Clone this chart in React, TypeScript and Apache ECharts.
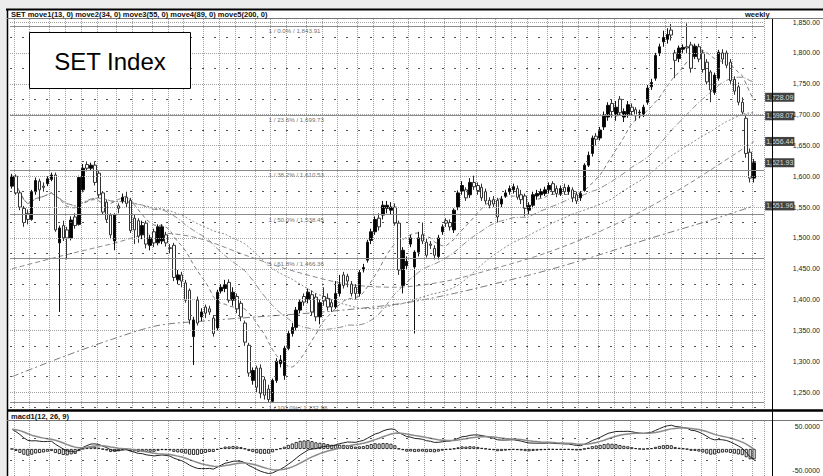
import React, { useEffect, useRef } from "react";
import * as echarts from "echarts";

// ---------- data ----------
const firstWeek = "2014-11-28";
const extraWeeks = 2;

// weekly candles: [open, close, low, high]
const ohlc: number[][] = [
  [1584, 1600, 1580, 1604], [1600, 1573, 1570, 1603], [1573, 1550, 1545, 1576], [1548, 1525, 1518, 1552],
  [1540, 1530, 1522, 1546], [1530, 1575, 1528, 1578], [1575, 1593, 1570, 1598], [1592, 1578, 1560, 1596],
  [1584, 1582, 1575, 1590], [1588, 1596, 1584, 1600], [1595, 1602, 1592, 1606], [1602, 1513, 1510, 1606],
  [1492, 1516, 1380, 1520], [1520, 1500, 1495, 1528], [1513, 1500, 1465, 1518], [1500, 1529, 1496, 1535],
  [1534, 1520, 1515, 1540], [1522, 1598, 1520, 1601], [1578, 1613, 1574, 1620], [1619, 1613, 1608, 1624],
  [1613, 1618, 1610, 1622], [1618, 1590, 1585, 1623], [1605, 1570, 1565, 1610], [1573, 1542, 1538, 1576],
  [1558, 1530, 1525, 1562], [1537, 1505, 1498, 1540], [1495, 1537, 1480, 1540], [1552, 1548, 1540, 1556],
  [1560, 1566, 1556, 1572], [1566, 1556, 1550, 1575], [1561, 1512, 1508, 1565], [1532, 1513, 1490, 1538],
  [1528, 1503, 1492, 1532], [1505, 1520, 1498, 1528], [1524, 1490, 1483, 1528], [1488, 1500, 1480, 1505],
  [1510, 1492, 1485, 1515], [1492, 1518, 1488, 1522], [1495, 1518, 1490, 1522], [1505, 1492, 1486, 1510],
  [1484, 1483, 1475, 1490], [1488, 1436, 1430, 1492], [1432, 1440, 1425, 1448], [1440, 1430, 1420, 1445],
  [1427, 1399, 1395, 1432], [1415, 1367, 1360, 1418], [1340, 1367, 1294, 1372], [1399, 1362, 1358, 1405],
  [1372, 1380, 1365, 1386], [1388, 1378, 1370, 1392], [1385, 1380, 1375, 1390], [1370, 1345, 1340, 1375],
  [1354, 1412, 1350, 1416], [1414, 1420, 1410, 1425], [1418, 1424, 1412, 1432], [1428, 1399, 1395, 1433],
  [1399, 1412, 1390, 1420], [1405, 1385, 1378, 1410], [1394, 1372, 1365, 1398], [1362, 1331, 1325, 1366],
  [1326, 1281, 1275, 1330], [1269, 1285, 1262, 1290], [1289, 1258, 1250, 1293], [1289, 1248, 1240, 1295],
  [1270, 1245, 1238, 1275], [1255, 1238, 1233, 1262], [1235, 1269, 1233, 1272], [1269, 1300, 1265, 1305],
  [1296, 1302, 1290, 1310], [1277, 1321, 1270, 1325], [1321, 1345, 1318, 1350], [1345, 1355, 1340, 1362],
  [1355, 1383, 1350, 1388], [1383, 1396, 1378, 1400], [1405, 1396, 1390, 1410], [1400, 1412, 1394, 1418],
  [1408, 1380, 1375, 1415], [1404, 1372, 1365, 1410], [1372, 1395, 1360, 1400], [1405, 1398, 1390, 1420],
  [1402, 1388, 1382, 1410], [1395, 1388, 1380, 1400], [1388, 1410, 1385, 1430], [1410, 1425, 1405, 1440],
  [1440, 1423, 1418, 1445], [1438, 1430, 1420, 1442], [1425, 1410, 1405, 1430], [1420, 1410, 1400, 1425],
  [1410, 1444, 1405, 1448], [1448, 1452, 1444, 1458], [1464, 1493, 1460, 1497], [1496, 1510, 1490, 1515],
  [1510, 1530, 1505, 1535], [1532, 1518, 1512, 1540], [1537, 1553, 1530, 1560], [1548, 1553, 1540, 1560],
  [1545, 1550, 1538, 1558], [1550, 1524, 1520, 1556], [1524, 1448, 1440, 1528], [1423, 1480, 1410, 1485],
  [1455, 1462, 1448, 1470], [1490, 1500, 1485, 1505], [1453, 1477, 1345, 1480], [1477, 1500, 1470, 1510],
  [1505, 1495, 1490, 1525], [1493, 1472, 1468, 1500], [1490, 1488, 1482, 1495], [1483, 1472, 1465, 1488],
  [1470, 1500, 1465, 1505], [1510, 1518, 1505, 1522], [1528, 1524, 1518, 1532], [1525, 1518, 1512, 1530],
  [1513, 1545, 1508, 1548], [1550, 1573, 1545, 1577], [1576, 1585, 1570, 1592], [1578, 1565, 1560, 1582],
  [1570, 1590, 1565, 1597], [1590, 1583, 1578, 1601], [1585, 1577, 1570, 1590], [1582, 1565, 1560, 1588],
  [1575, 1560, 1555, 1580], [1561, 1553, 1548, 1566], [1562, 1555, 1550, 1568], [1561, 1534, 1525, 1565],
  [1555, 1563, 1550, 1568], [1568, 1573, 1565, 1578], [1575, 1580, 1570, 1585], [1578, 1583, 1572, 1588],
  [1580, 1566, 1562, 1585], [1570, 1562, 1555, 1578], [1568, 1548, 1535, 1572], [1545, 1553, 1538, 1558],
  [1553, 1570, 1548, 1575], [1568, 1572, 1562, 1578], [1570, 1575, 1565, 1580], [1572, 1578, 1568, 1583],
  [1578, 1585, 1572, 1590], [1588, 1575, 1570, 1592], [1580, 1572, 1566, 1585], [1572, 1580, 1568, 1585],
  [1582, 1575, 1570, 1588], [1575, 1582, 1570, 1586], [1578, 1565, 1558, 1582], [1570, 1560, 1555, 1575],
  [1565, 1572, 1560, 1576], [1577, 1618, 1575, 1621], [1618, 1634, 1615, 1640], [1637, 1662, 1632, 1666],
  [1665, 1660, 1650, 1670], [1662, 1675, 1658, 1680], [1680, 1700, 1675, 1705], [1696, 1715, 1690, 1720],
  [1718, 1705, 1695, 1725], [1698, 1712, 1690, 1722], [1725, 1703, 1698, 1730], [1696, 1705, 1688, 1710],
  [1700, 1716, 1695, 1722], [1712, 1705, 1698, 1718], [1708, 1698, 1690, 1712], [1703, 1704, 1694, 1708],
  [1700, 1712, 1696, 1716], [1720, 1743, 1716, 1748], [1745, 1752, 1740, 1758], [1759, 1796, 1755, 1800],
  [1800, 1810, 1795, 1815], [1818, 1825, 1810, 1836], [1822, 1830, 1815, 1840], [1837, 1829, 1820, 1847],
  [1800, 1788, 1759, 1805], [1791, 1808, 1785, 1812], [1806, 1809, 1800, 1814], [1810, 1808, 1800, 1848],
  [1813, 1775, 1768, 1818], [1794, 1811, 1790, 1815], [1810, 1790, 1785, 1815], [1800, 1773, 1768, 1805],
  [1785, 1753, 1748, 1790], [1769, 1740, 1720, 1772], [1736, 1764, 1732, 1768], [1759, 1801, 1755, 1805],
  [1800, 1790, 1782, 1806], [1800, 1780, 1775, 1804], [1785, 1755, 1750, 1790], [1757, 1738, 1732, 1762],
  [1745, 1720, 1715, 1752], [1720, 1704, 1698, 1728], [1694, 1637, 1630, 1700], [1639, 1597, 1590, 1645],
  [1597, 1621.93, 1590, 1628],
];

// long averages at sample weeks: [weekIndex, value]
const ma89Read: number[][] = [
  [0, 1450], [12, 1470], [25, 1490], [37, 1508], [47, 1500], [60, 1470], [72, 1445], [85, 1425],
  [97, 1420], [110, 1430], [122, 1450], [135, 1475], [147, 1505], [160, 1545], [172, 1590], [188, 1656.44],
];
const ma200Read: number[][] = [
  [0, 1275], [12, 1305], [25, 1335], [37, 1358], [50, 1366], [62, 1372], [75, 1378], [87, 1385],
  [100, 1395], [112, 1410], [125, 1430], [137, 1450], [150, 1475], [162, 1500], [175, 1525], [188, 1551.96],
];
const maPeriods = [13, 34, 55];

const fibLevels = [1843.91, 1699.73, 1610.53, 1538.45, 1466.36, 1232.98];
const fibTexts = [
  "1 / 0.0% / 1,843.91", "1 / 23.6% / 1,699.73", "1 / 38.2% / 1,610.53",
  "1 / 50.0% / 1,538.45", "1 / 61.8% / 1,466.36", "1 / 100.0% / 1,232.98",
];
const fibLabelWeek = 65;

const tagValues = [1728.09, 1698.07, 1656.44, 1621.93, 1551.96];
const tagTexts = ["1,728.09", "1,698.07", "1,656.44", "1,621.93", "1,551.96"];

const priceTicks = [1250, 1300, 1350, 1400, 1450, 1500, 1550, 1600, 1650, 1700, 1750, 1800, 1850];
const priceQuarterLines = [1225, 1275, 1325, 1375, 1425, 1475, 1525, 1575, 1625, 1675, 1725, 1775, 1825];
const macdTicks = [50, -50];
const macdQuarterLines = [25, -25];
const macdStart = 45;

const titleText = "SET move1(13, 0) move2(34, 0) move3(55, 0) move4(89, 0) move5(200, 0)";

// ---------- derived ----------
const closes = ohlc.map((d) => d[1]);
const nWeeks = ohlc.length + extraWeeks;
const lastIdx = ohlc.length - 1;

const cats: string[] = [];
const monthStart: boolean[] = [];
{
  const t0 = new Date(firstWeek + "T00:00:00Z").getTime();
  let prevMonth = -1;
  for (let i = 0; i < nWeeks; i++) {
    const d = new Date(t0 + i * 7 * 86400000);
    cats.push(d.toISOString().slice(0, 10));
    monthStart.push(i > 0 && d.getUTCMonth() !== prevMonth);
    prevMonth = d.getUTCMonth();
  }
}

function sma(n: number) {
  return closes.map((_, i) => {
    const s = Math.max(0, i - n + 1);
    let sum = 0;
    for (let k = s; k <= i; k++) sum += closes[k];
    return +(sum / (i - s + 1)).toFixed(2);
  });
}
function sampled(pts: number[][]) {
  const arr: (number | null)[] = new Array(ohlc.length).fill(null);
  pts.forEach(([i, v]) => (arr[i] = v));
  return arr;
}

const macd: number[] = [];
const signal: number[] = [];
const hist: number[] = [];
{
  let e12 = closes[0];
  let e26 = closes[0] - macdStart;
  let sig = macdStart;
  closes.forEach((c, i) => {
    if (i > 0) {
      e12 += (2 / 13) * (c - e12);
      e26 += (2 / 27) * (c - e26);
    }
    const m = e12 - e26;
    if (i > 0) sig += (2 / 10) * (m - sig);
    macd.push(+m.toFixed(2));
    signal.push(+sig.toFixed(2));
    hist.push(+(m - sig).toFixed(2));
  });
}

const FONT = "Liberation Sans, Arial, sans-serif";
const maStyles: any[] = [
  { type: [4, 3], color: "#7a7a7a" },
  { type: [6, 2, 1, 2], color: "#8a8a8a" },
  { type: [2, 2], color: "#888" },
  { type: [5, 3], color: "#8a8a8a" },
  { type: [7, 3, 2, 3], color: "#7a7a7a" },
];

export default function App() {
  const ref = useRef<HTMLDivElement>(null);
  useEffect(() => {
    document.body.style.margin = "0";
    const chart = echarts.init(ref.current!, null, { renderer: "svg" });
    const xAxisBase = (g: number) => ({
      type: "category",
      gridIndex: g,
      data: cats,
      boundaryGap: true,
      axisLine: { show: false },
      axisTick: { show: false },
      axisLabel: { show: false },
      splitLine: {
        show: true,
        interval: (idx: number) => monthStart[idx],
        lineStyle: { color: "#a0a0a0", type: [1, 1], width: 1 },
      },
    });
    const maSeries = [
      ...maPeriods.map((p, k) => ({ name: "MA" + p, data: sma(p), style: maStyles[k], connect: false })),
      { name: "MA89", data: sampled(ma89Read), style: maStyles[3], connect: true },
      { name: "MA200", data: sampled(ma200Read), style: maStyles[4], connect: true },
    ].map((m) => ({
      name: m.name,
      type: "line",
      xAxisIndex: 0,
      yAxisIndex: 0,
      data: m.data,
      showSymbol: false,
      connectNulls: m.connect,
      smooth: m.connect ? 0.3 : false,
      silent: true,
      lineStyle: { width: 1, color: m.style.color, type: m.style.type },
      z: 1,
    }));

    const option: any = {
      animation: false,
      textStyle: { fontFamily: FONT },
      grid: [
        { left: 10, top: 19, width: 762, height: 391 },
        { left: 10, top: 421, width: 762, height: 55 },
      ],
      xAxis: [xAxisBase(0), xAxisBase(1)],
      yAxis: [
        {
          type: "value",
          gridIndex: 0,
          position: "right",
          min: 1221,
          max: 1855,
          splitLine: { show: false },
          axisLine: { show: false },
          axisTick: { show: false },
          axisLabel: {
            customValues: priceTicks,
            formatter: (v: number) =>
              v.toLocaleString("en-US", { minimumFractionDigits: 2, maximumFractionDigits: 2 }),
            fontSize: 7,
            color: "#222",
            align: "right",
            margin: 56,
            fontFamily: FONT,
          },
        },
        {
          type: "value",
          gridIndex: 1,
          position: "right",
          min: -61.4,
          max: 63.6,
          splitLine: { show: false },
          axisLine: { show: false },
          axisTick: { show: false },
          axisLabel: {
            customValues: macdTicks,
            formatter: (v: number) => v.toFixed(4),
            fontSize: 7,
            color: "#222",
            align: "right",
            margin: 56,
            fontFamily: FONT,
          },
        },
      ],
      series: [
        ...maSeries,
        {
          name: "SET",
          type: "candlestick",
          xAxisIndex: 0,
          yAxisIndex: 0,
          data: ohlc,
          barWidth: 3,
          z: 3,
          itemStyle: {
            color: "#000",
            color0: "#fff",
            borderColor: "#111",
            borderColor0: "#333",
            borderWidth: 1,
          },
          markLine: {
            symbol: ["none", "none"],
            silent: true,
            animation: false,
            label: { show: false },
            data: [
              ...priceTicks.map((v) => ({ yAxis: v, lineStyle: { type: [1, 1], color: "#a0a0a0", width: 1 } })),
              ...priceQuarterLines.map((v) => ({ yAxis: v, lineStyle: { type: [2, 10], color: "#555", width: 1 } })),
              ...fibLevels.map((v) => ({ yAxis: v, lineStyle: { type: "solid", color: "#8c8c8c", width: 1 } })),
            ],
          },
        },
        {
          name: "fib",
          type: "scatter",
          xAxisIndex: 0,
          yAxisIndex: 0,
          symbolSize: 0,
          silent: true,
          data: fibLevels.map((v) => [fibLabelWeek, v]),
          label: {
            show: true,
            position: [0, 2],
            align: "left",
            verticalAlign: "top",
            fontSize: 6.2,
            color: "#444",
            fontFamily: FONT,
            formatter: (p: any) => fibTexts[p.dataIndex],
          },
          z: 4,
        },
        {
          name: "tags",
          type: "scatter",
          xAxisIndex: 0,
          yAxisIndex: 0,
          symbolSize: 0,
          silent: true,
          data: tagValues.map((v) => [lastIdx, v]),
          label: {
            show: true,
            position: "right",
            distance: 11,
            fontSize: 7,
            color: "#fff",
            backgroundColor: "#111",
            padding: [1, 1, 1, 1],
            fontFamily: FONT,
            formatter: (p: any) => tagTexts[p.dataIndex],
          },
          z: 10,
        },
        {
          name: "hist",
          type: "bar",
          xAxisIndex: 1,
          yAxisIndex: 1,
          data: hist,
          barWidth: 3,
          silent: true,
          itemStyle: { color: "#fff", borderColor: "#000", borderWidth: 0.8 },
          markLine: {
            symbol: ["none", "none"],
            silent: true,
            animation: false,
            label: { show: false },
            data: macdQuarterLines.map((v) => ({ yAxis: v, lineStyle: { type: [2, 10], color: "#555", width: 1 } })),
          },
        },
        {
          name: "macd",
          type: "line",
          xAxisIndex: 1,
          yAxisIndex: 1,
          data: macd,
          showSymbol: false,
          silent: true,
          lineStyle: { width: 1, color: "#222" },
        },
        {
          name: "signal",
          type: "line",
          xAxisIndex: 1,
          yAxisIndex: 1,
          data: signal,
          showSymbol: false,
          silent: true,
          lineStyle: { width: 1.5, color: "#8a8a8a" },
        },
      ],
      graphic: [
        { type: "line", silent: true, z: 100, shape: { x1: 6, y1: 9.5, x2: 823, y2: 9.5 }, style: { stroke: "#000", lineWidth: 2 } },
        { type: "line", silent: true, z: 100, shape: { x1: 7.5, y1: 9, x2: 7.5, y2: 476 }, style: { stroke: "#000", lineWidth: 1.5 } },
        { type: "line", silent: true, z: 100, shape: { x1: 7, y1: 18.5, x2: 823, y2: 18.5 }, style: { stroke: "#777", lineWidth: 1 } },
        { type: "line", silent: true, z: 100, shape: { x1: 7, y1: 410.5, x2: 823, y2: 410.5 }, style: { stroke: "#000", lineWidth: 2.5 } },
        { type: "line", silent: true, z: 100, shape: { x1: 7, y1: 420.5, x2: 823, y2: 420.5 }, style: { stroke: "#777", lineWidth: 1 } },
        { type: "line", silent: true, z: 100, shape: { x1: 772.5, y1: 19, x2: 772.5, y2: 476 }, style: { stroke: "#000", lineWidth: 1 } },
        {
          type: "text", silent: true, z: 100, x: 11, y: 14,
          style: { text: titleText, fontSize: 7.5, fontWeight: "bold", fill: "#111", fontFamily: FONT, verticalAlign: "middle" },
        },
        {
          type: "text", silent: true, z: 100, x: 745, y: 14,
          style: { text: "weekly", fontSize: 7.5, fontWeight: "bold", fill: "#111", fontFamily: FONT, verticalAlign: "middle" },
        },
        {
          type: "text", silent: true, z: 100, x: 11, y: 416,
          style: { text: "macd1(12, 26, 9)", fontSize: 7.5, fontWeight: "bold", fill: "#111", fontFamily: FONT, verticalAlign: "middle" },
        },
        {
          type: "rect", silent: true, z: 100, shape: { x: 29.5, y: 32.5, width: 161, height: 56 },
          style: { fill: "#fff", stroke: "#000", lineWidth: 1 },
        },
        {
          type: "text", silent: true, z: 101, x: 110, y: 61,
          style: { text: "SET Index", fontSize: 24, fill: "#000", fontFamily: FONT, align: "center", verticalAlign: "middle" },
        },
      ],
    };
    chart.setOption(option);
    return () => chart.dispose();
  }, []);

  return (
    <div style={{ position: "relative", width: 823, height: 476, background: "#ececec", overflow: "hidden" }}>
      <div style={{ position: "absolute", left: 7, top: 9, width: 816, height: 467, background: "#fff" }} />
      <div ref={ref} style={{ position: "absolute", left: 0, top: 0, width: 823, height: 476 }} />
    </div>
  );
}
